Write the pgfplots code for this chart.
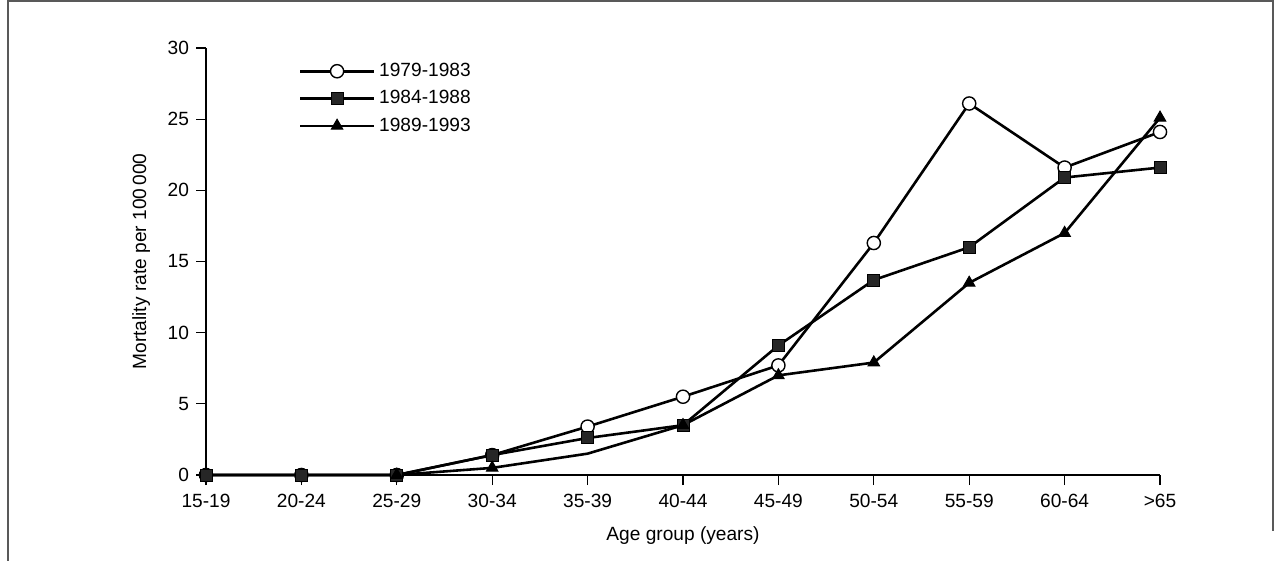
\documentclass[border=0pt]{standalone}
\usepackage{pgfplots}
\pgfplotsset{compat=1.18}
\usepackage{fontspec}
\setmainfont{Liberation Sans}
\begin{document}
\begin{tikzpicture}
\useasboundingbox (0,0) rectangle (640bp,280.5bp);
\draw[line width=0.7pt,gray!70!black] (4bp,0) -- (4bp,280bp) -- (636.5bp,280bp) -- (636.5bp,15bp);
\begin{axis}[at={(103bp,43bp)},anchor=origin,scale only axis,width=477bp,height=213.5bp,
  xmin=0,xmax=10,ymin=0,ymax=30,
  axis x line*=bottom, axis y line*=left,
  axis line style={-,line width=0.6pt},
  xtick={0,...,10},
  xticklabels={15-19,20-24,25-29,30-34,35-39,40-44,45-49,50-54,55-59,60-64,>65},
  ytick={0,5,...,30},
  tick align=outside, major tick length=5bp,
  tick style={black,line width=0.6pt},
  ticklabel style={font=\fontsize{9.6}{10}\selectfont},
  xticklabel style={yshift=-1bp},
  /pgf/number format/assume math mode=true,
  xlabel={Age group (years)}, ylabel={Mortality rate per 100\,000},
  label style={font=\fontsize{9.6}{10}\selectfont},
  xlabel style={yshift=-2.5bp}, ylabel style={yshift=2bp},
  clip=false,
  legend style={at={(0.097,0.975)},anchor=north west,draw=none,fill=none,font=\fontsize{9.6}{10}\selectfont,row sep=1.5bp,inner sep=0pt},
  legend cell align=left,
  legend image code/.code={\draw[#1,mark=none,line width=1.3pt] (0cm,0cm) -- (1.3cm,0cm); \draw[#1,draw=none,mark indices={}] plot coordinates {(0.65cm,0cm)};},
  every axis plot/.append style={black,line width=1.3pt,mark size=3.3bp}]
\addplot[mark=*,mark options={fill=white,draw=black,line width=0.7pt}] coordinates {(0,0)(1,0)(2,0)(3,1.4)(4,3.4)(5,5.5)(6,7.7)(7,16.3)(8,26.1)(9,21.6)(10,24.1)};
\addplot[mark=square*,mark size=3bp,mark options={fill=black!85,line width=0.5pt}] coordinates {(0,0)(1,0)(2,0)(3,1.4)(4,2.6)(5,3.5)(6,9.1)(7,13.7)(8,16.0)(9,20.9)(10,21.6)};
\addplot[mark=triangle*,mark indices={1,2,4,5,6,7,8,9},mark options={fill=black,line width=0.5pt}] coordinates {(2,0)(3,0.5)(4,1.5)(5,3.5)(6,7.0)(7,7.9)(8,13.5)(9,17.0)(10,25.1)};
\legend{1979-1983,1984-1988,1989-1993}
\end{axis}
\end{tikzpicture}
\end{document}
